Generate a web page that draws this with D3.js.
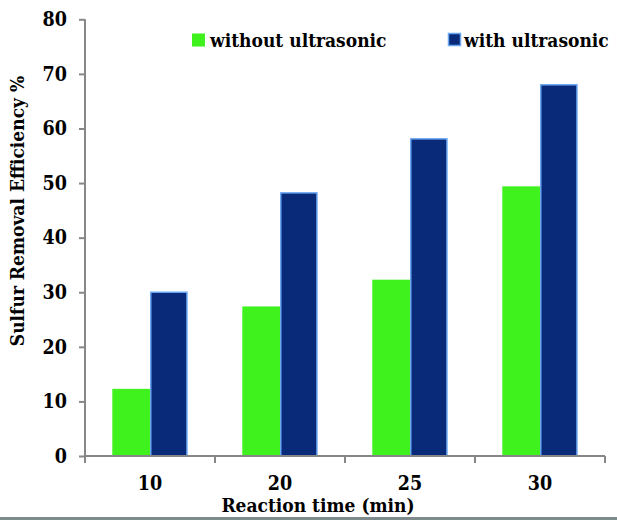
<!DOCTYPE html>
<html>
<head>
<meta charset="utf-8">
<script src="https://cdn.jsdelivr.net/npm/d3@7"></script>
<style>
  html, body { margin: 0; padding: 0; background: #fff; }
  svg { display: block; }
  text { font-family: "DejaVu Serif Condensed", "DejaVu Serif", serif; font-weight: bold; fill: #000; }
</style>
</head>
<body>
<svg id="chart" width="617" height="520"></svg>
<script>
const categories = ["10", "20", "25", "30"];
const seriesNames = ["without ultrasonic", "with ultrasonic"];
const withoutUltrasonic = [12.3, 27.4, 32.3, 49.4];
const withUltrasonic = [30.0, 48.2, 58.1, 68.0];
const yTicks = [0, 10, 20, 30, 40, 50, 60, 70, 80];

const colors = { "without ultrasonic": "#3ff21e", "with ultrasonic": "#082a78" };
const strokes = { "without ultrasonic": "none", "with ultrasonic": "#6aa6f2" };
const fontFam = '"DejaVu Serif Condensed", "DejaVu Serif", serif';

const svg = d3.select("#chart");
const axisColor = "#878787";

const x = d3.scaleBand().domain(categories).range([85, 605]).padding(0);
const x1 = d3.scaleBand().domain(seriesNames).range([27.3, 102.7]).padding(0);
const y = d3.scaleLinear().domain([0, 80]).range([456, 19.3]);

const data = categories.map((c, i) => ({
  cat: c,
  values: [
    { key: seriesNames[0], value: withoutUltrasonic[i] },
    { key: seriesNames[1], value: withUltrasonic[i] }
  ]
}));

// bars
const groups = svg.append("g").selectAll("g").data(data).join("g")
  .attr("transform", d => `translate(${x(d.cat)},0)`);
groups.selectAll("rect").data(d => d.values).join("rect")
  .attr("x", d => x1(d.key) + (d.key === seriesNames[1] ? 0.75 : 0))
  .attr("width", d => x1.bandwidth() - (d.key === seriesNames[1] ? 1.5 : 0))
  .attr("y", d => y(d.value))
  .attr("height", d => y(0) - y(d.value))
  .attr("fill", d => colors[d.key])
  .attr("stroke", d => strokes[d.key])
  .attr("stroke-width", 1.5);

// y axis
const yAxis = svg.append("g").attr("transform", "translate(85,0)")
  .call(d3.axisLeft(y).tickValues(yTicks).tickSize(6).tickPadding(12));
yAxis.select(".domain").attr("stroke", axisColor).attr("stroke-width", 2).attr("d", `M0,${y(80)}V${y(0)}`);
yAxis.selectAll(".tick line").attr("stroke", axisColor).attr("stroke-width", 2);
yAxis.selectAll(".tick text").attr("font-size", 19.5).attr("font-family", fontFam).attr("font-weight", "bold").attr("fill", "#000");

// x axis
const xAxis = svg.append("g").attr("transform", `translate(0,${y(0)})`)
  .call(d3.axisBottom(x).tickSize(0).tickPadding(20));
xAxis.select(".domain").attr("stroke", axisColor).attr("stroke-width", 2).attr("d", `M${x.range()[0]},0H${x.range()[1]}`);
xAxis.selectAll(".tick text").attr("font-size", 19.5).attr("font-family", fontFam).attr("font-weight", "bold").attr("fill", "#000");
const bounds = categories.map(c => x(c)).concat([x.range()[1]]);
xAxis.selectAll(".bound").data(bounds).join("line").attr("class", "bound")
  .attr("x1", d => d).attr("x2", d => d).attr("y1", 0).attr("y2", 7)
  .attr("stroke", axisColor).attr("stroke-width", 2);

// axis titles
svg.append("text").attr("x", 318).attr("y", 511.5).attr("text-anchor", "middle")
  .attr("font-size", 19).text("Reaction time (min)");
svg.append("text").attr("transform", "translate(24,211) rotate(-90)").attr("text-anchor", "middle")
  .attr("font-size", 19).text("Sulfur Removal Efficiency %");

// legend
const legendPos = [{ sx: 192, tx: 210 }, { sx: 448.5, tx: 464 }];
const legend = svg.append("g").selectAll("g").data(seriesNames).join("g");
legend.append("rect")
  .attr("x", (d, i) => legendPos[i].sx).attr("y", 33.5)
  .attr("width", d => d === seriesNames[1] ? 12 : 13).attr("height", d => d === seriesNames[1] ? 12 : 13)
  .attr("fill", d => colors[d]).attr("stroke", d => strokes[d]).attr("stroke-width", 1.5);
legend.append("text")
  .attr("x", (d, i) => legendPos[i].tx).attr("y", 46.5)
  .attr("font-size", 19).text(d => d);

// bottom rule
svg.append("line").attr("x1", 0).attr("x2", 617).attr("y1", 518.5).attr("y2", 518.5)
  .attr("stroke", "#7f8a8c").attr("stroke-width", 3);
</script>
</body>
</html>
